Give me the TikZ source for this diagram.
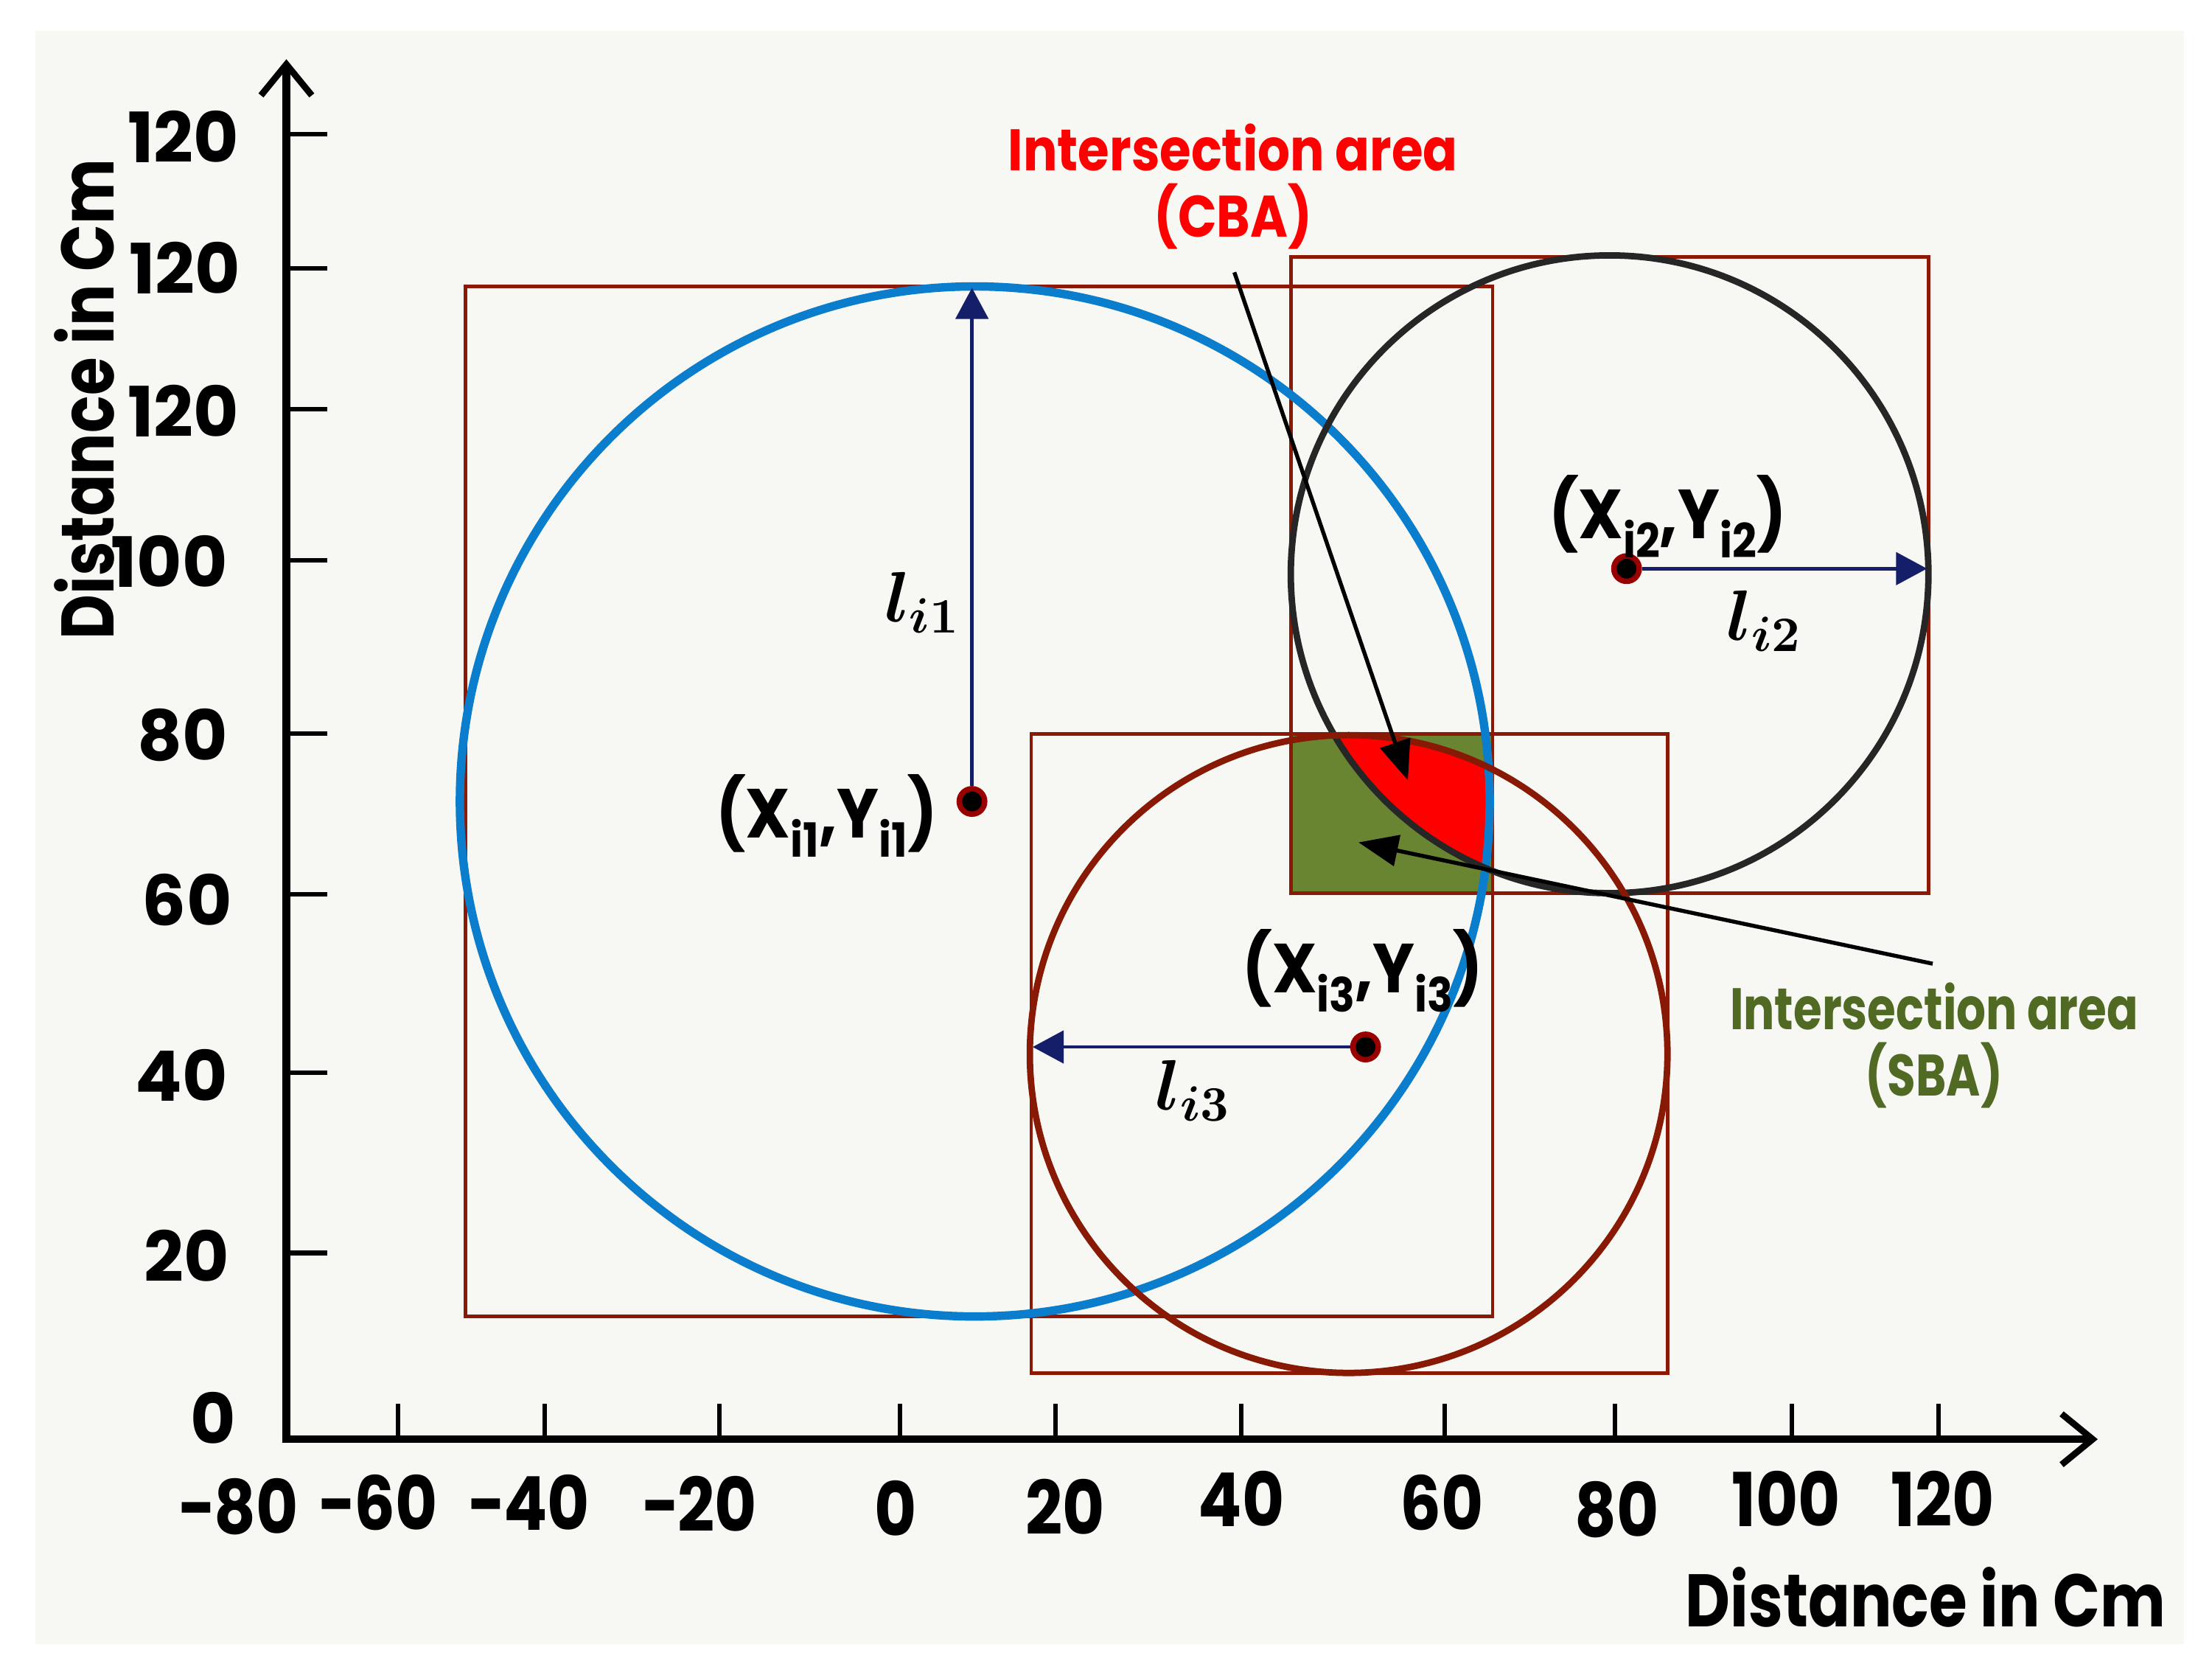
\documentclass[tikz,border=0pt]{standalone}
\usepackage{fontspec}
\setmainfont{Poppins}
\usetikzlibrary{arrows.meta}
\definecolor{boxred}{RGB}{140,25,5}
\definecolor{circblue}{RGB}{10,125,205}
\definecolor{circbrown}{RGB}{135,25,5}
\definecolor{sbagreen}{RGB}{105,133,50}
\definecolor{sbatext}{RGB}{80,105,35}
\definecolor{navy}{RGB}{20,30,105}
\definecolor{panel}{RGB}{247,248,244}
\newcommand{\lowidx}[1]{\raisebox{-0.5ex}{\fontsize{9.5}{9.5}\selectfont #1}}

\begin{document}
\begin{tikzpicture}[x=0.01cm, y=-0.01cm, font=\bfseries,
    axis/.style={line width=1.5pt, -{Straight Barb[length=2.2mm,width=3.6mm,line width=1.3pt]}},
    axtick/.style={line width=0.9pt},
    yticklabel/.style={font=\fontsize{14}{14}\selectfont\bfseries, inner sep=0pt, anchor=east},
    xticklabel/.style={font=\fontsize{15}{15}\selectfont\bfseries, xscale=0.87},
    axtitle/.style={font=\fontsize{15}{15}\selectfont\bfseries, xscale=0.83},
    bbox/.style={draw=boxred, line width=0.7pt},
    ctrdot/.style={circle, fill=black, draw=red!60!black, line width=1.1pt, inner sep=0pt, minimum size=1.8mm},
    radarrow/.style={navy, line width=0.7pt, -{Triangle[length=2.2mm,width=2.3mm]}},
    pointer/.style={line width=0.8pt, -{Triangle[length=2.8mm,width=2.2mm]}},
    ptlabel/.style={font=\fontsize{14}{14}\selectfont\bfseries, xscale=0.9},
    mathlabel/.style={font=\fontsize{14}{14}\selectfont\boldmath},
    note/.style={font=\fontsize{11.8}{13.4}\selectfont\bfseries, align=center}]
  \useasboundingbox (0,0) rectangle (1568,1189);
  \fill[panel] (25,22) rectangle (1548,1165);

  % circle centres
  \coordinate (o1) at (691,568);
  \coordinate (o2) at (1141,407);
  \coordinate (o3) at (956,747);

  % intersection areas
  \fill[sbagreen] (916,520) rectangle (1058,633);
  \begin{scope}
    \clip (916,520) rectangle (1058,633);
    \clip (o2) circle (226);
    \clip (o3) circle (226);
    \fill[red] (o1) circle (365);
  \end{scope}

  % bounding squares
  \draw[bbox] (330,203) rectangle (1058,933);
  \draw[bbox] (915,182) rectangle (1367,633);
  \draw[bbox] (731,520) rectangle (1182,973);

  % circles
  \draw[circblue, line width=1.7pt] (o1) circle (365);
  \draw[black!85, line width=1.3pt] (o2) circle (226);
  \draw[circbrown, line width=1.3pt] (o3) circle (226);

  % axes
  \coordinate (origin) at (200,1020);
  \coordinate (ytop) at (203,42);
  \coordinate (xend) at (1487,1020);
  \draw[axis] (203,1022) -- (ytop);
  \draw[axis] (origin) -- (xend);
  \foreach \y/\t/\lx/\ly in {95/120/170/97, 190/120/171/190, 290/120/170/291, 397/100/162/398, 520/80/162/521, 634/60/165/638, 760/40/162/762, 888/20/163/890}{
    \draw[axtick] (203,\y) -- (232,\y);
    \node[yticklabel] at (\lx,\ly) {\t};
  }
  \node[yticklabel] at (168,1005) {0};
  \foreach \x in {282,386,510,638,748,880,1024,1145,1270,1374}
    \draw[axtick] (\x,995) -- (\x,1022);
  \foreach \x/\t/\ly in {169/−80/1068, 268/−60/1065, 375/−40/1065, 496/−20/1066, 635/0/1069, 755/20/1068, 880/40/1062, 1022/60/1065, 1146/80/1070, 1266/100/1062, 1377/120/1062}
    \node[xticklabel] at (\x,\ly) {\t};
  \node[axtitle] (xtitle) at (1365,1132) {Distance in Cm};
  \node[rotate=90, axtitle] (ytitle) at (60,283) {Distance in Cm};

  % centres and radii
  \node[ctrdot] (c1) at (689,568) {};
  \node[ctrdot] (c2) at (1153,403) {};
  \node[ctrdot] (c3) at (968,742) {};
  \coordinate (r1) at (689,204);
  \coordinate (r2) at (1366,403);
  \coordinate (r3) at (732,742);
  \draw[radarrow] (c1) -- (r1);
  \draw[radarrow] (c2) -- (r2);
  \draw[radarrow] (c3) -- (r3);
  \node[ptlabel] (p1) at (586,578) {(X\lowidx{i1},Y\lowidx{i1})};
  \node[ptlabel] (p2) at (1182,366) {(X\lowidx{i2},Y\lowidx{i2})};
  \node[ptlabel] (p3) at (966,688) {(X\lowidx{i3},Y\lowidx{i3})};
  \node[mathlabel] (l1) at (654,427) {$l_{i1}$};
  \node[mathlabel] (l2) at (1251,440) {$l_{i2}$};
  \node[mathlabel] (l3) at (846,773) {$l_{i3}$};

  % annotations
  \node[note, red, xscale=0.87] (cba) at (874,132) {Intersection area\\(CBA)};
  \coordinate (cbatail) at (875,193);
  \coordinate (cbatip) at (998,553);
  \draw[pointer] (cbatail) -- (cbatip);
  \node[note, sbatext, xscale=0.79] (sba) at (1371,741) {Intersection area\\(SBA)};
  \coordinate (sbatail) at (1370,683);
  \coordinate (sbatip) at (963,597);
  \draw[pointer] (sbatail) -- (sbatip);
\end{tikzpicture}
\end{document}
